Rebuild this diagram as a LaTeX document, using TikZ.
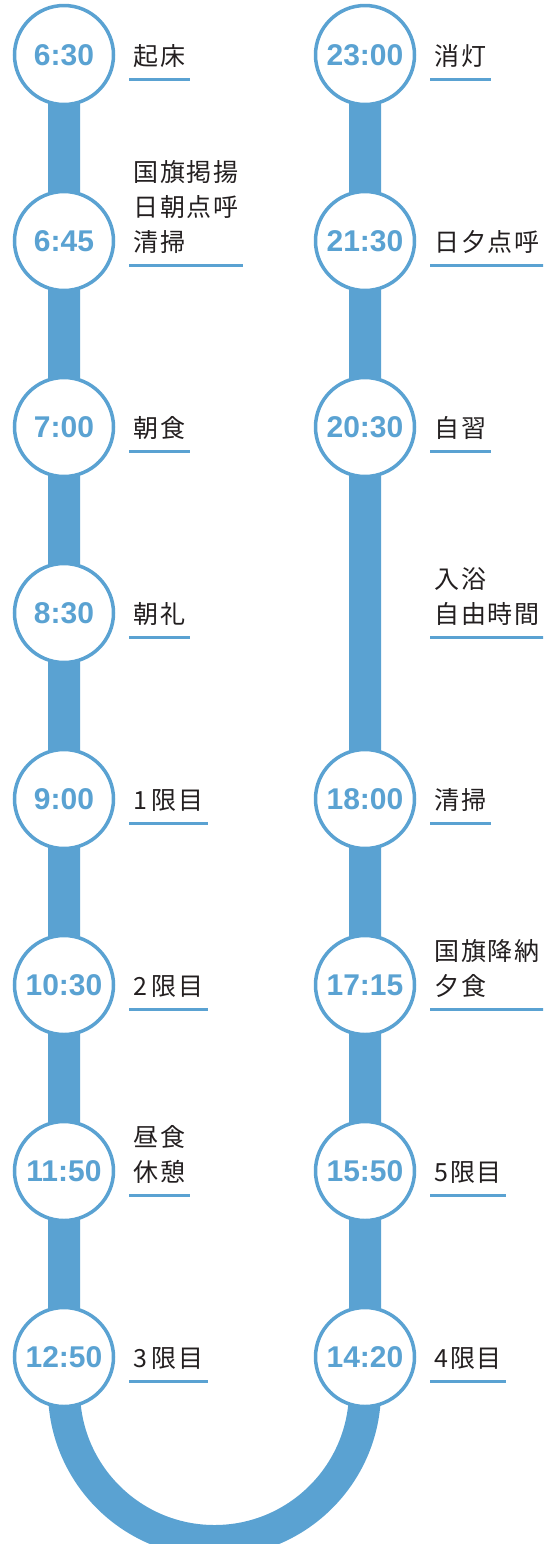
\documentclass[tikz,border=0pt]{standalone}
\usepackage{fontspec}
\setmainfont{Liberation Sans}
\newfontfamily\jpfont[LetterSpace=7]{Noto Sans CJK JP}
\newfontfamily\timefont{Liberation Sans}
\usetikzlibrary{backgrounds}
\definecolor{tlblue}{RGB}{90,162,210}
\definecolor{tlink}{RGB}{35,31,32}
\tikzset{
  tlcirc/.style={
    circle, draw=tlblue, fill=white, line width=1.75pt,
    minimum size=49.5pt, inner sep=0pt, text=tlblue,
    font=\timefont\bfseries\fontsize{15}{18}\selectfont
  },
  tllab/.style={
    anchor=south west, inner xsep=2pt, inner ysep=6.75pt, text depth=0pt,
    align=left, text=tlink, font=\jpfont\fontsize{12.5}{17.5}\selectfont
  },
  uline/.style={draw=tlblue, line width=1.5pt},
  tlbar/.style={draw=tlblue, line width=16pt}
}
\begin{document}
\begin{tikzpicture}[x=0.5pt,y=-0.5pt]
  \useasboundingbox (0,0) rectangle (543,1544);
  \clip (0,0) rectangle (543,1544);
  % morning column, top to bottom
  \foreach \tm [count=\k from 0] in {6:30,6:45,7:00,8:30,9:00,10:30,11:50,12:50}
    \node[tlcirc] (l\k) at (64,55+186*\k) {\tm};
  % evening column, read bottom to top
  \foreach \k/\tm in {0/23:00,1/21:30,2/20:30,4/18:00,5/17:15,6/15:50,7/14:20}
    \node[tlcirc] (r\k) at (365,55+186*\k) {\tm};
  \coordinate (r3) at (365,613);
  \begin{scope}[on background layer]
    \draw[tlbar] (l0.center) -- (l7.center) -- ++(0,33.5)
      arc[start angle=180, end angle=0, radius=150.5] -- (r7.center) -- (r0.center);
  \end{scope}
  % labels with their rules
  \foreach \k/\txt in {0/起床, 1/{国旗掲揚\\日朝点呼\\清掃}, 2/朝食, 3/朝礼,
      4/1\,限目, 5/2\,限目, 6/{昼食\\休憩}, 7/3\,限目} {
    \node[tllab] (la\k) at (129,79+186*\k) {\txt};
    \draw[uline] (la\k.south west) -- (la\k.south east);
  }
  \foreach \k/\txt in {0/消灯, 1/日夕点呼, 2/自習, 3/{入浴\\自由時間},
      4/清掃, 5/{国旗降納\\夕食}, 6/5限目, 7/4限目} {
    \node[tllab] (ra\k) at (430,79+186*\k) {\txt};
    \draw[uline] (ra\k.south west) -- (ra\k.south east);
  }
\end{tikzpicture}
\end{document}
